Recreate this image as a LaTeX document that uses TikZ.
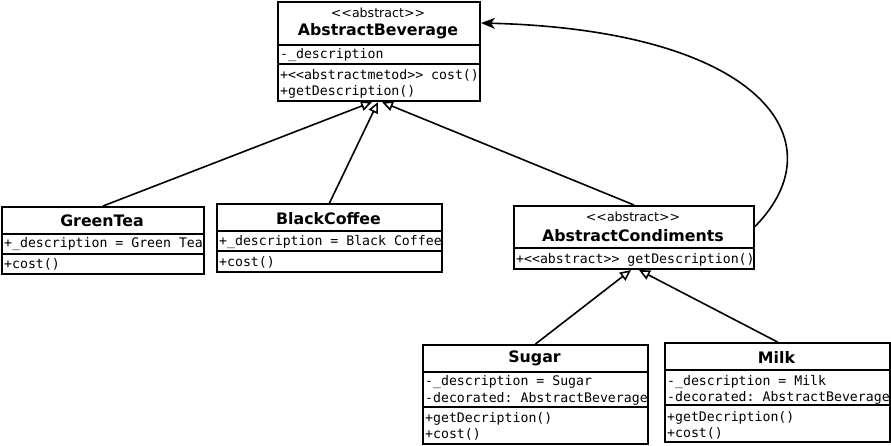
\documentclass[tikz,border=0pt]{standalone}
\usepackage{fontspec}
\setmainfont{DejaVu Sans}
\setmonofont{DejaVu Sans Mono}
\usetikzlibrary{arrows.meta}
\tikzset{
 cls/.style={draw, line width=2pt, anchor=north west, inner sep=0pt, fill=white},
 div/.style={line width=2pt},
 cname/.style={font=\fontsize{15.8}{18}\selectfont\bfseries, inner sep=0pt, yshift=-1.5pt},
 stereo/.style={font=\fontsize{12.6}{15}\selectfont, inner sep=0pt, yshift=-1pt},
 mem/.style={font=\fontsize{13.2}{15}\selectfont\ttfamily, inner sep=0pt, anchor=west, yshift=-1.5pt},
 inh/.style={line width=1.6pt, -{Triangle[open,length=11pt,width=10pt]}},
 assoc/.style={line width=1.6pt, -{Stealth[length=14pt,width=11pt,inset=4pt]}},
}
\begin{document}
\begin{tikzpicture}[x=1pt,y=-1pt]
\useasboundingbox (0,0) rectangle (891,445);
% AbstractBeverage
\node[cls, minimum width=202pt, minimum height=99pt] (ab) at (277,1) {};
\node[stereo] (abs) at (378,12) {<{}<abstract>{}>};
\node[cname] (abn) at (378,30) {AbstractBeverage};
\draw[div] (277,45) -- (479,45);
\draw[div] (277,64) -- (479,64);
\node[mem] (ab1) at (280,54) {-\_description};
\node[mem] (ab2) at (280,74) {+<{}<abstractmetod>{}> cost()};
\node[mem] (ab3) at (280,90) {+getDescription()};
% GreenTea
\node[cls, minimum width=202pt, minimum height=67pt] (gt) at (1,206) {};
\node[cname] (gtn) at (102,219) {GreenTea};
\draw[div] (1,234) -- (203,234);
\draw[div] (1,254) -- (203,254);
\node[mem] (gt1) at (4,243) {+\_description = Green Tea};
\node[mem] (gt2) at (4,263) {+cost()};
% BlackCoffee
\node[cls, minimum width=225pt, minimum height=68pt] (bc) at (216,203) {};
\node[cname] (bcn) at (328.5,217) {BlackCoffee};
\draw[div] (216,231) -- (441,231);
\draw[div] (216,251) -- (441,251);
\node[mem] (bc1) at (219,241) {+\_description = Black Coffee};
\node[mem] (bc2) at (219,261) {+cost()};
% AbstractCondiments
\node[cls, minimum width=240pt, minimum height=63pt] (ac) at (513,205) {};
\node[stereo] (acs) at (633,216) {<{}<abstract>{}>};
\node[cname] (acn) at (633,234) {AbstractCondiments};
\draw[div] (513,248) -- (753,248);
\node[mem] (ac1) at (516,258) {+<{}<abstract>{}> getDescription()};
% Sugar
\node[cls, minimum width=225pt, minimum height=99pt] (sg) at (422,344) {};
\node[cname] (sgn) at (534.5,357) {Sugar};
\draw[div] (422,372) -- (647,372);
\draw[div] (422,407) -- (647,407);
\node[mem] (sg1) at (425,381) {-\_description = Sugar};
\node[mem] (sg2) at (425,397) {-decorated: AbstractBeverage};
\node[mem] (sg3) at (425,417) {+getDecription()};
\node[mem] (sg4) at (425,433) {+cost()};
% Milk
\node[cls, minimum width=225pt, minimum height=99pt] (mk) at (664,342) {};
\node[cname] (mkn) at (776.5,356) {Milk};
\draw[div] (664,370) -- (889,370);
\draw[div] (664,405) -- (889,405);
\node[mem] (mk1) at (667,380) {-\_description = Milk};
\node[mem] (mk2) at (667,396) {-decorated: AbstractBeverage};
\node[mem] (mk3) at (667,416) {+getDecription()};
\node[mem] (mk4) at (667,432) {+cost()};
% connectors
\draw[inh] (gt.north) -- ([xshift=-7pt]ab.south);
\draw[inh] (bc.north) -- ([xshift=-1pt]ab.south);
\draw[inh] (ac.north) -- ([xshift=3pt]ab.south);
\draw[inh] (sg.north) -- ([xshift=-3pt]ac.south);
\draw[inh] (mk.north) -- ([xshift=5pt]ac.south);
\draw[assoc] ([yshift=11pt]ac.east) .. controls (840,140) and (760,30) .. ([yshift=-22pt]ab.north east);
\end{tikzpicture}
\end{document}
